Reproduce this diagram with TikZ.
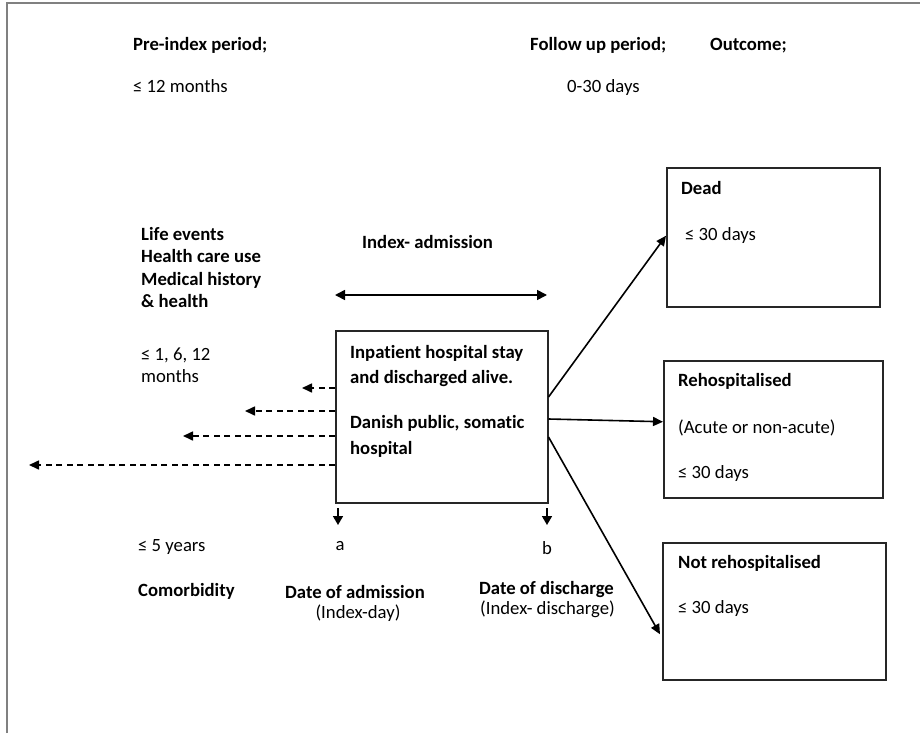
\documentclass[tikz,border=0pt]{standalone}
\usepackage{fontspec}
\setmainfont{Carlito}[Ligatures=NoCommon]
\usetikzlibrary{arrows.meta}
\begin{document}
\begin{tikzpicture}[x=1pt,y=-1pt,
  txt/.style={anchor=base west,inner sep=0pt,font=\fontsize{18.7}{22.5}\selectfont},
  btxt/.style={txt,font=\fontsize{18.7}{22.5}\selectfont\bfseries},
  ctxt/.style={txt,anchor=base},
  boxn/.style={draw=black!85,line width=1.5pt,inner sep=0pt,anchor=north west},
  arr/.style={line width=1.6pt,-{Triangle[length=10pt,width=9pt]}},
  darr/.style={arr,dash pattern=on 6pt off 4.5pt},
  sarr/.style={line width=1.6pt,-{Triangle[length=9pt,width=10pt]}},
  frame/.style={draw=black!50,line width=2pt}]
\useasboundingbox (0,0) rectangle (920,733);
\draw[frame] (7,733) -- (7,3.5) -- (920,3.5);
% headings
\node[btxt] (pre) at (133,51) {Pre-index period;};
\node[btxt] (fup) at (530,51) {Follow up period;};
\node[btxt] (out) at (710,51) {Outcome;};
\node[txt] (m12) at (133,93) {≤ 12 months};
\node[txt] (d30) at (567,93) {0-30 days};
% left block
\node[btxt,align=left,anchor=north west] (life) at (141,227) {Life events\\Health care use\\Medical history\\\& health};
\node[txt] (m1) at (141,360) {≤ 1, 6, 12};
\node[txt] (mo) at (141,382) {months};
\node[txt] (y5) at (138,551) {≤ 5 years};
\node[btxt] (com) at (138,596) {Comorbidity};
% index admission
\node[btxt] (ia) at (362,248) {Index- admission};
\coordinate (ial) at (335,295);
\coordinate (iar) at (547,295);
\draw[line width=1.6pt,{Triangle[length=10pt,width=10pt]}-{Triangle[length=10pt,width=10pt]}] (ial) -- (iar);
% main box
\node[boxn,minimum width=212pt,minimum height=172pt] (box) at (335,330) {};
\node[btxt] (t1) at (350,358) {Inpatient hospital stay};
\node[btxt] (t2) at (350,383) {and discharged alive.};
\node[btxt] (t3) at (350,428) {Danish public, somatic};
\node[btxt] (t4) at (350,454) {hospital};
% dashed arrows
\coordinate (e1) at (302,388);
\coordinate (e2) at (245,411);
\coordinate (e3) at (183,436);
\coordinate (e4) at (29,465);
\draw[darr] (box.west |- e1) -- (e1);
\draw[darr] (box.west |- e2) -- (e2);
\draw[darr] (box.west |- e3) -- (e3);
\draw[darr] (box.west |- e4) -- (e4);
% a, b
\coordinate (sa) at (338,508);
\coordinate (sb) at (547,508);
\coordinate (ta) at (338,525);
\coordinate (tb) at (547,525);
\draw[sarr] (sa) -- (ta);
\draw[sarr] (sb) -- (tb);
\node[ctxt] (la) at (340,550) {a};
\node[ctxt] (lb) at (547,554) {b};
\node[btxt] (doa) at (285,598) {Date of admission};
\node[ctxt] (idd) at (358,618) {(Index-day)};
\node[btxt] (dod) at (479,594) {Date of discharge};
\node[txt] (idc) at (480,614) {(Index- discharge)};
% outcome boxes
\node[boxn,minimum width=213pt,minimum height=139pt] (dead) at (666,167) {};
\node[btxt] (dt) at (681,194) {Dead};
\node[txt] (dd) at (685,240) {≤ 30 days};
\node[boxn,minimum width=219pt,minimum height=137pt] (reh) at (663,360) {};
\node[btxt] (rt) at (678,386) {Rehospitalised};
\node[txt] (ra) at (678,433) {(Acute or non-acute)};
\node[txt] (rd) at (678,478) {≤ 30 days};
\node[boxn,minimum width=223pt,minimum height=137pt] (nreh) at (662,542) {};
\node[btxt] (nt) at (678,568) {Not rehospitalised};
\node[txt] (nd) at (678,613) {≤ 30 days};
% outcome arrows
\draw[arr] ([yshift=-67pt]box.north east) -- ([yshift=1.5pt]dead.west);
\draw[arr] ([yshift=-89pt]box.north east) -- ([yshift=7.5pt]reh.west);
\draw[arr] ([yshift=-107pt]box.north east) -- ([yshift=-23pt,xshift=-2pt]nreh.west);
\end{tikzpicture}
\end{document}
